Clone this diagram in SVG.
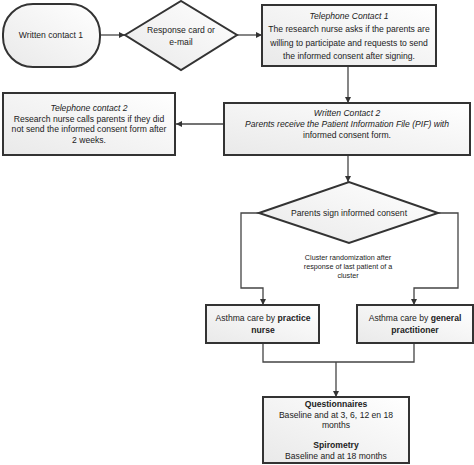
<svg xmlns="http://www.w3.org/2000/svg" width="474" height="465" viewBox="0 0 474 465">
<defs>
<linearGradient id="g" x1="1" y1="0" x2="0" y2="1">
<stop offset="0" stop-color="#ffffff"/>
<stop offset="1" stop-color="#e9e9e9"/>
</linearGradient>
<marker id="ah" viewBox="0 0 10 10" refX="10" refY="5" markerWidth="6" markerHeight="6" markerUnits="userSpaceOnUse" orient="auto">
<path d="M0,0 L10,5 L0,10 z" fill="#333"/>
</marker>
<style>
.n{fill:url(#g);stroke:#333;stroke-width:2}
.t{font-family:"Liberation Sans",Arial,sans-serif;font-size:8.6px;fill:#222;text-anchor:middle}
.s{font-size:7.2px}
.c{fill:none;stroke:#444;stroke-width:1.3}
.a{marker-end:url(#ah)}
</style>
</defs>
<rect width="474" height="465" fill="#fff"/>
<g id="connectors">
<line class="c a" x1="100" y1="35" x2="125" y2="35"/>
<line class="c a" x1="237" y1="35" x2="262" y2="35"/>
<line class="c a" x1="348" y1="66" x2="348" y2="103"/>
<line class="c a" x1="224" y1="124" x2="176" y2="124"/>
<line class="c a" x1="348" y1="155" x2="348" y2="182"/>
<polyline class="c a" points="259,213 241,213 241,288 263,288 263,305"/>
<polyline class="c a" points="438,213 458,213 458,288 414,288 414,305"/>
<polyline class="c" points="263,343 263,362 414,362 414,343"/>
<line class="c a" x1="336" y1="362" x2="336" y2="397"/>
</g>
<g id="written1">
<rect class="n" x="3" y="4" width="97" height="63" rx="30" ry="30"/>
<text class="t" x="51" y="38">Written contact 1</text>
</g>
<g id="response">
<polygon class="n" points="125,35 181,1 237,35 181,70"/>
<text class="t" x="181" y="33">Response card or</text>
<text class="t" x="181" y="45">e-mail</text>
</g>
<g id="tel1">
<rect class="n" x="262" y="5" width="174" height="61"/>
<text class="t" x="349" y="19" font-style="italic">Telephone Contact 1</text>
<text class="t" x="349" y="32">The research nurse asks if the parents are</text>
<text class="t" x="349" y="46">willing to participate and requests to send</text>
<text class="t" x="349" y="59">the informed consent after signing.</text>
</g>
<g id="written2">
<rect class="n" x="224" y="103" width="246" height="52"/>
<text class="t" x="347" y="116" font-style="italic">Written Contact 2</text>
<text class="t" x="347" y="127" font-style="italic">Parents receive the Patient Information File (PIF) with</text>
<text class="t" x="347" y="138">informed consent form.</text>
</g>
<g id="tel2">
<rect class="n" x="3" y="93" width="172" height="62"/>
<text class="t" x="89" y="111" font-style="italic">Telephone contact 2</text>
<text class="t" x="89" y="121.5">Research nurse calls parents if they did</text>
<text class="t" x="89" y="132">not send the informed consent form after</text>
<text class="t" x="89" y="142.5">2 weeks.</text>
</g>
<g id="consent">
<polygon class="n" points="259,213 349,182 438,213 349,243"/>
<text class="t" x="349" y="216">Parents sign informed consent</text>
</g>
<g id="cluster-label">
<text class="t s" x="348" y="260">Cluster randomization after</text>
<text class="t s" x="348" y="269">response of last patient of a</text>
<text class="t s" x="348" y="277.5">cluster</text>
</g>
<g id="nurse">
<rect class="n" x="206" y="305" width="113" height="38"/>
<text class="t" x="263" y="321">Asthma care by <tspan font-weight="bold">practice</tspan></text>
<text class="t" x="263" y="333" font-weight="bold">nurse</text>
</g>
<g id="gp">
<rect class="n" x="357" y="305" width="116" height="38"/>
<text class="t" x="415" y="321">Asthma care by <tspan font-weight="bold">general</tspan></text>
<text class="t" x="415" y="333" font-weight="bold">practitioner</text>
</g>
<g id="outcomes">
<rect class="n" x="263" y="397" width="146" height="66"/>
<text class="t" x="336" y="407" font-weight="bold">Questionnaires</text>
<text class="t" x="336" y="418">Baseline and at 3, 6, 12 en 18</text>
<text class="t" x="336" y="428">months</text>
<text class="t" x="336" y="448" font-weight="bold">Spirometry</text>
<text class="t" x="336" y="459">Baseline and at 18 months</text>
</g>
</svg>
